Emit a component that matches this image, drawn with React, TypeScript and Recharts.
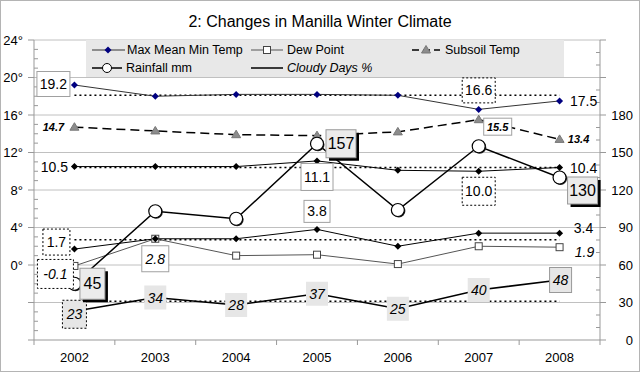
import React from "react";
import {
  LineChart,
  Line,
  XAxis,
  YAxis,
  CartesianGrid,
  LabelList,
} from "recharts";

// values
const years = ["2002", "2003", "2004", "2005", "2006", "2007", "2008"];
const maxTemp = [19.2, 18.0, 18.2, 18.2, 18.1, 16.6, 17.5];
const meanTemp = [10.5, 10.5, 10.5, 11.1, 10.1, 10.0, 10.4];
const minTemp = [1.7, 2.8, 2.8, 3.8, 2.0, 3.4, 3.4];
const dewPoint = [-0.1, 2.8, 1.0, 1.1, 0.1, 2.0, 1.9];
const subsoilTemp = [14.7, 14.3, 13.9, 13.8, 14.2, 15.5, 13.4];
const rainfall = [45, 103, 97, 157, 104, 155, 130];
const cloudyDays = [23, 34, 28, 37, 25, 40, 48];

// long-term averages (dotted lines)
const maxAvg = 18.1;
const meanAvg = 10.4;
const minAvg = 2.7;
const cloudyAvg = 31;

const leftTicks = Array.from({ length: 33 }, (_, i) => i - 8);
const rightTicks = Array.from({ length: 25 }, (_, i) => i * 10);
const gridTemps = [-4, 0, 4, 8, 12, 16, 20, 24];

const data = years.map((year, i) => ({
  year,
  maxTemp: maxTemp[i],
  meanTemp: meanTemp[i],
  minTemp: minTemp[i],
  dewPoint: dewPoint[i],
  subsoilTemp: subsoilTemp[i],
  rainfall: rainfall[i],
  cloudyDays: cloudyDays[i],
  maxAvg,
  meanAvg,
  minAvg,
  cloudyAvg,
}));

const W = 640;
const H = 372;
const PLOT_LEFT = 34;
const PLOT_RIGHT = 600;
const HALF_BAND = (PLOT_RIGHT - PLOT_LEFT) / years.length / 2;
const FONT = "'Liberation Sans', Arial, sans-serif";
const AXIS = "#999";

type Box = "none" | "solid" | "dotted" | "shadow" | "gray" | "grayBorder" | "grayDotted";
type Kind = "normal" | "italic" | "small" | "big";
type Spec = { dx: number; dy: number; w?: number; h?: number; box: Box; font: Kind } | null;

const fonts: Record<Kind, any> = {
  normal: { fontSize: 14 },
  italic: { fontSize: 14, fontStyle: "italic" },
  small: { fontSize: 11, fontStyle: "italic", fontWeight: "bold" },
  big: { fontSize: 16 },
};

const maxLabels: Spec[] = [
  { dx: -21, dy: -1, w: 33, h: 25, box: "solid", font: "normal" },
  null, null, null, null,
  { dx: 0, dy: -19, w: 33, h: 25, box: "dotted", font: "normal" },
  { dx: 24, dy: 0, box: "none", font: "normal" },
];
const meanLabels: Spec[] = [
  { dx: -20, dy: 0, box: "none", font: "normal" },
  null, null,
  { dx: 0, dy: 16, w: 32, h: 27, box: "solid", font: "normal" },
  null,
  { dx: 0, dy: 20, w: 33, h: 28, box: "dotted", font: "normal" },
  { dx: 24, dy: 0, box: "none", font: "normal" },
];
const minLabels: Spec[] = [
  { dx: -18, dy: -7, w: 27, h: 26, box: "dotted", font: "normal" },
  null, null,
  { dx: 0, dy: -18, w: 26, h: 22, box: "solid", font: "normal" },
  null, null,
  { dx: 24, dy: -5, box: "none", font: "normal" },
];
const dewLabels: Spec[] = [
  { dx: -19, dy: 8, w: 36, h: 29, box: "dotted", font: "italic" },
  { dx: 0, dy: 20, w: 27, h: 26, box: "solid", font: "italic" },
  null, null, null, null,
  { dx: 25, dy: 5, box: "none", font: "italic" },
];
const subsoilLabels: Spec[] = [
  { dx: -21, dy: 0, box: "none", font: "small" },
  null, null, null, null,
  { dx: 19, dy: 7, w: 28, h: 17, box: "solid", font: "small" },
  { dx: 19, dy: 0, box: "none", font: "small" },
];
const rainLabels: Spec[] = [
  { dx: 18, dy: 0, w: 25, h: 31, box: "shadow", font: "big" },
  null, null,
  { dx: 24, dy: 0, w: 30, h: 28, box: "shadow", font: "big" },
  null, null,
  { dx: 23, dy: 13, w: 30, h: 27, box: "shadow", font: "big" },
];
const cloudLabels: Spec[] = [
  { dx: 0, dy: 3, w: 24, h: 28, box: "grayDotted", font: "italic" },
  { dx: 0, dy: 0, w: 22, h: 24, box: "gray", font: "italic" },
  { dx: 0, dy: 0, w: 22, h: 24, box: "gray", font: "italic" },
  { dx: 0, dy: 0, w: 22, h: 24, box: "gray", font: "italic" },
  { dx: 0, dy: 0, w: 22, h: 24, box: "gray", font: "italic" },
  { dx: 0, dy: 0, w: 22, h: 24, box: "gray", font: "italic" },
  { dx: 1, dy: 0, w: 22, h: 25, box: "grayBorder", font: "italic" },
];

function boxShape(cx: number, cy: number, w: number, h: number, box: Box) {
  const x = cx - w / 2;
  const y = cy - h / 2;
  switch (box) {
    case "solid":
      return <rect x={x} y={y} width={w} height={h} fill="#fff" stroke="#a0a0a0" />;
    case "dotted":
      return <rect x={x} y={y} width={w} height={h} fill="#fff" stroke="#000" strokeDasharray="2 2" />;
    case "shadow":
      return (
        <g>
          <rect x={x + 3} y={y + 3} width={w} height={h} fill="#000" />
          <rect x={x} y={y} width={w} height={h} fill="#ebebeb" stroke="#999" />
        </g>
      );
    case "gray":
      return <rect x={x} y={y} width={w} height={h} fill="#e6e6e6" />;
    case "grayBorder":
      return <rect x={x} y={y} width={w} height={h} fill="#e6e6e6" stroke="#999" />;
    case "grayDotted":
      return <rect x={x} y={y} width={w} height={h} fill="#e6e6e6" stroke="#000" strokeDasharray="2 2" />;
    default:
      return null;
  }
}

const makeLabel = (specs: Spec[], digits: number) => (props: any) => {
  const { x, y, value, index } = props;
  const s = specs[index];
  if (!s || x == null || y == null) return null;
  const cx = x + s.dx;
  const cy = y + s.dy;
  return (
    <g>
      {s.box !== "none" && boxShape(cx, cy, s.w || 0, s.h || 0, s.box)}
      <text
        x={cx}
        y={cy}
        textAnchor="middle"
        dominantBaseline="central"
        fontFamily={FONT}
        fill="#000"
        {...fonts[s.font]}
      >
        {Number(value).toFixed(digits)}
      </text>
    </g>
  );
};

const diamond = (fill: string, r: number) => (p: any) =>
  p.cx == null ? null : (
    <path
      key={p.index}
      d={`M${p.cx},${p.cy - r}L${p.cx + r},${p.cy}L${p.cx},${p.cy + r}L${p.cx - r},${p.cy}Z`}
      fill={fill}
    />
  );

const square = (p: any) =>
  p.cx == null ? null : (
    <rect key={p.index} x={p.cx - 3.5} y={p.cy - 3.5} width={7} height={7} fill="#fff" stroke="#444" />
  );

const triangle = (p: any) =>
  p.cx == null ? null : (
    <path
      key={p.index}
      d={`M${p.cx},${p.cy - 4.5}L${p.cx + 4.5},${p.cy + 3}L${p.cx - 4.5},${p.cy + 3}Z`}
      fill="#8c8c8c"
      stroke="#777"
    />
  );

const bigCircle = (p: any) =>
  p.cx == null ? null : (
    <g key={p.index}>
      <circle cx={p.cx + 1} cy={p.cy + 1} r={6.5} fill="#222" />
      <circle cx={p.cx} cy={p.cy} r={6.5} fill="#fff" stroke="#000" strokeWidth={1.2} />
    </g>
  );

const LeftTick = (props: any) => {
  const { x, y, payload } = props;
  const ax = x + 9;
  const v = payload.value;
  const major = v % 4 === 0;
  return (
    <g>
      {major ? (
        <line x1={ax - 6} x2={ax} y1={y} y2={y} stroke={AXIS} />
      ) : (
        <line x1={ax} x2={ax + 4} y1={y} y2={y} stroke={AXIS} />
      )}
      {major && v >= 0 && (
        <text x={ax - 11} y={y} textAnchor="end" dominantBaseline="central" fontSize={13} fontFamily={FONT} fill="#000">
          {v}°
        </text>
      )}
    </g>
  );
};

const RightTick = (props: any) => {
  const { x, y, payload } = props;
  const ax = x - 9;
  const v = payload.value;
  const major = v % 30 === 0;
  return (
    <g>
      {major ? (
        <line x1={ax} x2={ax + 6} y1={y} y2={y} stroke={AXIS} />
      ) : (
        <line x1={ax - 4} x2={ax} y1={y} y2={y} stroke={AXIS} />
      )}
      {major && v <= 180 && (
        <text x={ax + 33} y={y} textAnchor="end" dominantBaseline="central" fontSize={13} fontFamily={FONT} fill="#000">
          {v}
        </text>
      )}
    </g>
  );
};

const YearTick = (props: any) => {
  const { x, y, payload, index } = props;
  const ay = y - 9;
  return (
    <g>
      <line x1={x - HALF_BAND} x2={x - HALF_BAND} y1={ay} y2={ay + 5} stroke={AXIS} />
      {index === years.length - 1 && (
        <line x1={x + HALF_BAND} x2={x + HALF_BAND} y1={ay} y2={ay + 5} stroke={AXIS} />
      )}
      <text x={x} y={ay + 17} textAnchor="middle" dominantBaseline="central" fontSize={13} fontFamily={FONT} fill="#000">
        {payload.value}
      </text>
    </g>
  );
};

function Overlay() {
  const row1 = 50;
  const row2 = 68;
  const txt = { fontSize: 12.5, fontFamily: FONT, fill: "#000", dominantBaseline: "central" as const };
  return (
    <svg width={W} height={H} style={{ position: "absolute", left: 0, top: 0, pointerEvents: "none" }}>
      <rect x={0.5} y={0.5} width={W - 1} height={H - 1} fill="none" stroke="#b4b4b4" />
      <text x={320} y={21} textAnchor="middle" dominantBaseline="central" fontSize={16} fontFamily={FONT} fill="#000">
        2: Changes in Manilla Winter Climate
      </text>
      <rect x={86} y={40} width={478} height={37} fill="#e8e8e8" />

      <line x1={92} x2={125} y1={row1} y2={row1} stroke="#333" />
      <path d={`M108,${row1 - 3.5}L111.5,${row1}L108,${row1 + 3.5}L104.5,${row1}Z`} fill="#000080" />
      <text x={127} y={row1} {...txt}>Max Mean Min Temp</text>

      <line x1={251} x2={283} y1={row1} y2={row1} stroke="#555" />
      <rect x={263.5} y={row1 - 3.5} width={7} height={7} fill="#fff" stroke="#444" />
      <text x={287} y={row1} {...txt}>Dew Point</text>

      <line x1={412} x2={440} y1={row1} y2={row1} stroke="#000" strokeWidth={1.5} strokeDasharray="7 4" />
      <path d={`M426,${row1 - 4.5}L430.5,${row1 + 3}L421.5,${row1 + 3}Z`} fill="#8c8c8c" stroke="#777" />
      <text x={445} y={row1} {...txt}>Subsoil Temp</text>

      <line x1={92} x2={122} y1={row2} y2={row2} stroke="#000" strokeWidth={1.5} />
      <circle cx={107} cy={row2} r={4.5} fill="#fff" stroke="#000" />
      <text x={126} y={row2} {...txt}>Rainfall mm</text>

      <line x1={251} x2={283} y1={row2} y2={row2} stroke="#000" strokeWidth={1.5} />
      <text x={287} y={row2} {...txt} fontStyle="italic">Cloudy Days %</text>
    </svg>
  );
}

export default function App() {
  // average lines are plain dotted series so they stay under the label boxes
  const avgLine = { stroke: "#000", strokeWidth: 1.5, strokeDasharray: "2 3", dot: false, activeDot: false };

  return (
    <div style={{ position: "absolute", left: 0, top: 0, width: W, height: H, background: "#fff", fontFamily: FONT }}>
      <LineChart width={W} height={H} data={data} margin={{ top: 40, right: 0, bottom: 0, left: 0 }}>
        <CartesianGrid
          xAxisId="cat"
          yAxisId="left"
          vertical={false}
          horizontalValues={gridTemps}
          stroke="#c0c0c0"
        />
        <XAxis
          xAxisId="cat"
          dataKey="year"
          type="category"
          scale="band"
          interval={0}
          height={32}
          tickSize={6}
          tickMargin={3}
          tickLine={false}
          axisLine={{ stroke: AXIS }}
          tick={<YearTick />}
        />
        <YAxis
          yAxisId="left"
          domain={[-8, 24]}
          ticks={leftTicks}
          interval={0}
          width={34}
          tickSize={6}
          tickMargin={3}
          tickLine={false}
          axisLine={{ stroke: AXIS }}
          tick={<LeftTick />}
        />
        <YAxis
          yAxisId="right"
          orientation="right"
          domain={[0, 240]}
          ticks={rightTicks}
          interval={0}
          width={40}
          tickSize={6}
          tickMargin={3}
          tickLine={false}
          axisLine={{ stroke: AXIS }}
          tick={<RightTick />}
        />

        <Line xAxisId="cat" yAxisId="left" dataKey="maxAvg" {...avgLine} isAnimationActive={false} />
        <Line xAxisId="cat" yAxisId="left" dataKey="meanAvg" {...avgLine} isAnimationActive={false} />
        <Line xAxisId="cat" yAxisId="left" dataKey="minAvg" {...avgLine} isAnimationActive={false} />
        <Line xAxisId="cat" yAxisId="right" dataKey="cloudyAvg" {...avgLine} isAnimationActive={false} />

        <Line xAxisId="cat" yAxisId="left" dataKey="dewPoint" stroke="#555" strokeWidth={1}
          dot={square} activeDot={false} isAnimationActive={false}>
          <LabelList dataKey="dewPoint" content={makeLabel(dewLabels, 1)} />
        </Line>
        <Line xAxisId="cat" yAxisId="left" dataKey="minTemp" stroke="#000" strokeWidth={1}
          dot={diamond("#000", 3.5)} activeDot={false} isAnimationActive={false}>
          <LabelList dataKey="minTemp" content={makeLabel(minLabels, 1)} />
        </Line>
        <Line xAxisId="cat" yAxisId="left" dataKey="meanTemp" stroke="#000" strokeWidth={1}
          dot={diamond("#000", 3.5)} activeDot={false} isAnimationActive={false}>
          <LabelList dataKey="meanTemp" content={makeLabel(meanLabels, 1)} />
        </Line>
        <Line xAxisId="cat" yAxisId="left" dataKey="maxTemp" stroke="#333" strokeWidth={1}
          dot={diamond("#000080", 3.5)} activeDot={false} isAnimationActive={false}>
          <LabelList dataKey="maxTemp" content={makeLabel(maxLabels, 1)} />
        </Line>
        <Line xAxisId="cat" yAxisId="left" dataKey="subsoilTemp" stroke="#000" strokeWidth={1.5}
          strokeDasharray="9 5" dot={triangle} activeDot={false} isAnimationActive={false}>
          <LabelList dataKey="subsoilTemp" content={makeLabel(subsoilLabels, 1)} />
        </Line>
        <Line xAxisId="cat" yAxisId="right" dataKey="cloudyDays" stroke="#000" strokeWidth={1.5}
          dot={false} activeDot={false} isAnimationActive={false}>
          <LabelList dataKey="cloudyDays" content={makeLabel(cloudLabels, 0)} />
        </Line>
        <Line xAxisId="cat" yAxisId="right" dataKey="rainfall" stroke="#000" strokeWidth={1.5}
          dot={bigCircle} activeDot={false} isAnimationActive={false}>
          <LabelList dataKey="rainfall" content={makeLabel(rainLabels, 0)} />
        </Line>
      </LineChart>
      <Overlay />
    </div>
  );
}
